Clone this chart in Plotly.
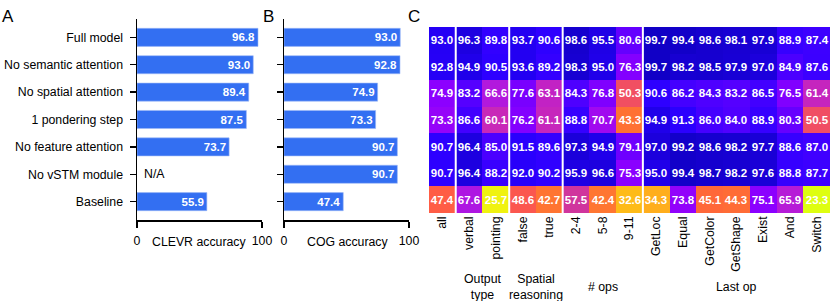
import plotly.graph_objects as go

# ---------------- data ----------------
models = ["Full model", "No semantic attention", "No spatial attention",
          "1 pondering step", "No feature attention", "No vSTM module", "Baseline"]
clevr_acc = [96.8, 93.0, 89.4, 87.5, 73.7, None, 55.9]
cog_acc = [93.0, 92.8, 74.9, 73.3, 90.7, 90.7, 47.4]

columns = ["all", "verbal", "pointing", "false", "true", "2-4", "5-8", "9-11",
           "GetLoc", "Equal", "GetColor", "GetShape", "Exist", "And", "Switch"]
group_names = ["", "Output<br>type", "Spatial<br>reasoning", "# ops", "Last op"]
group_sizes = [1, 2, 2, 3, 7]

heat = [
    [93.0, 96.3, 89.8, 93.7, 90.6, 98.6, 95.5, 80.6, 99.7, 99.4, 98.6, 98.1, 97.9, 88.9, 87.4],
    [92.8, 94.9, 90.5, 93.6, 89.2, 98.3, 95.0, 76.3, 99.7, 98.2, 98.5, 97.9, 97.0, 84.9, 87.6],
    [74.9, 83.2, 66.6, 77.6, 63.1, 84.3, 76.8, 50.3, 90.6, 86.2, 84.3, 83.2, 86.5, 76.5, 61.4],
    [73.3, 86.6, 60.1, 76.2, 61.1, 88.8, 70.7, 43.3, 94.9, 91.3, 86.0, 84.0, 88.9, 80.3, 50.5],
    [90.7, 96.4, 85.0, 91.5, 89.6, 97.3, 94.9, 79.1, 97.0, 99.2, 98.6, 98.2, 97.7, 88.6, 87.0],
    [90.7, 96.4, 88.2, 92.0, 90.2, 95.9, 96.6, 75.3, 95.0, 99.4, 98.7, 98.2, 97.6, 88.8, 87.7],
    [47.4, 67.6, 25.7, 48.6, 42.7, 57.5, 42.4, 32.6, 34.3, 73.8, 45.1, 44.3, 75.1, 65.9, 23.3],
]

# ---------------- layout helpers ----------------
W, H = 830, 301
FONT = "Liberation Sans, Arial, Helvetica, sans-serif"
FS = 12.3


def px(p):
    return p / W


def py(p):
    return 1 - p / H


ZMIN, ZMAX = 23.0, 100.0
stops = [
    (23, "#dcff10"), (26, "#f2f010"), (33, "#ffb818"), (35, "#ffa820"),
    (42, "#ff7830"), (45, "#ff6838"), (48, "#ff5a48"), (50, "#f25060"),
    (57, "#d23898"), (60, "#c828b8"), (64, "#c020c8"), (67, "#b018e0"),
    (71, "#a008f0"), (75, "#8c00ff"), (80, "#6800ff"), (84, "#5000ff"),
    (88, "#3a00ff"), (91, "#2c00ff"), (94, "#2200f0"), (97, "#1c00dc"),
    (100, "#1000c4"),
]
colorscale = [[(v - ZMIN) / (ZMAX - ZMIN), c] for v, c in stops]

BAR_COLOR = "#336ff2"

fig = go.Figure()

for xs, xa, ya in [(clevr_acc, "x", "y"), (cog_acc, "x2", "y2")]:
    fig.add_trace(go.Bar(
        x=xs, y=models, orientation="h", xaxis=xa, yaxis=ya,
        marker=dict(color=BAR_COLOR, line=dict(color="#9db8f7", width=0.6)),
        width=0.66, texttemplate="<b>%{x:.1f}</b>", textposition="inside",
        insidetextanchor="end", textangle=0,
        textfont=dict(color="white", size=11.5, family=FONT),
        constraintext="none", hoverinfo="skip",
    ))

ncol = len(columns)
nrow = len(models)
fig.add_trace(go.Heatmap(
    z=heat, x=list(range(ncol)), y=list(range(nrow)),
    xaxis="x3", yaxis="y3",
    colorscale=colorscale, zmin=ZMIN, zmax=ZMAX, showscale=False,
    text=[[f"<b>{v:.1f}</b>" for v in row] for row in heat],
    texttemplate="%{text}",
    textfont=dict(color="white", size=11.5, family=FONT),
    hoverinfo="skip",
))

bar_x_common = dict(
    range=[0, 100], tickvals=[0, 100], ticktext=["0", "100"],
    ticks="outside", ticklen=6, tickwidth=1.5, tickcolor="black",
    showline=True, linecolor="black", linewidth=1.5, ticklabelstandoff=3,
    showgrid=False, zeroline=False, fixedrange=True, automargin=False,
    tickfont=dict(size=FS, color="black", family=FONT),
)
bar_y_common = dict(
    type="category", categoryorder="array", categoryarray=models,
    range=[nrow - 1 + 0.67, -0.67],
    ticks="outside", ticklen=6, tickwidth=1.5, tickcolor="black",
    showline=True, linecolor="black", linewidth=1.5, ticklabelstandoff=4,
    showgrid=False, zeroline=False, fixedrange=True, automargin=False,
    tickfont=dict(size=FS, color="black", family=FONT),
    domain=[py(220), py(19)],
)

layout = dict(
    width=W, height=H,
    margin=dict(l=0, r=0, t=0, b=0, pad=0, autoexpand=False),
    paper_bgcolor="white", plot_bgcolor="white",
    showlegend=False,
    font=dict(family=FONT, size=FS, color="black"),
    xaxis=dict(domain=[px(137), px(262)], anchor="y", **bar_x_common),
    yaxis=dict(anchor="x", **bar_y_common),
    xaxis2=dict(domain=[px(284), px(409)], anchor="y2", **bar_x_common),
    yaxis2=dict(anchor="x2", showticklabels=False, **bar_y_common),
    xaxis3=dict(domain=[px(429), 1.0], anchor="y3", range=[-0.5, ncol - 0.5],
                tickvals=list(range(ncol)), ticktext=columns, tickangle=-90,
                ticks="", showline=False, showgrid=False, zeroline=False,
                fixedrange=True, automargin=False,
                tickfont=dict(size=FS, color="black", family=FONT)),
    yaxis3=dict(domain=[py(213), py(27)], anchor="x3", range=[nrow - 0.5, -0.5],
                showticklabels=False, ticks="", showline=False, showgrid=False,
                zeroline=False, fixedrange=True, automargin=False),
)
fig.update_layout(**layout)

annotations = []
for name, v in zip(models, clevr_acc):
    if v is None:
        annotations.append(dict(x=0, y=name, xref="x", yref="y", text="N/A",
                                showarrow=False, xanchor="left", xshift=5,
                                font=dict(size=FS, color="black", family=FONT)))
annotations.append(dict(x=px(199), y=py(242), xref="paper", yref="paper",
                        text="CLEVR accuracy", showarrow=False,
                        xanchor="center", yanchor="middle",
                        font=dict(size=FS, color="black", family=FONT)))
annotations.append(dict(x=px(347), y=py(242), xref="paper", yref="paper",
                        text="COG accuracy", showarrow=False,
                        xanchor="center", yanchor="middle",
                        font=dict(size=FS, color="black", family=FONT)))
for letter, xp in [("A", 0), ("B", 261), ("C", 406)]:
    annotations.append(dict(x=px(xp), y=py(16), xref="paper", yref="paper",
                            text=letter, showarrow=False, xanchor="left",
                            yanchor="middle",
                            font=dict(size=17, color="black", family=FONT)))
shapes = []
start = 0
for gname, gsize in zip(group_names, group_sizes):
    if gname:
        annotations.append(dict(x=start + (gsize - 1) / 2, y=py(287),
                                xref="x3", yref="paper", text=gname,
                                showarrow=False, xanchor="center", yanchor="middle",
                                font=dict(size=FS, color="black", family=FONT)))
    end = start + gsize
    if end < ncol:
        shapes.append(dict(type="line", xref="x3", yref="y3 domain",
                           x0=end - 0.5, x1=end - 0.5, y0=0, y1=1,
                           line=dict(color="white", width=2)))
    start = end

fig.update_layout(annotations=annotations, shapes=shapes)

fig.write_html("out.html", config={"displayModeBar": False, "staticPlot": True},
               post_script="document.body.style.margin='0';document.body.style.overflow='hidden';")
